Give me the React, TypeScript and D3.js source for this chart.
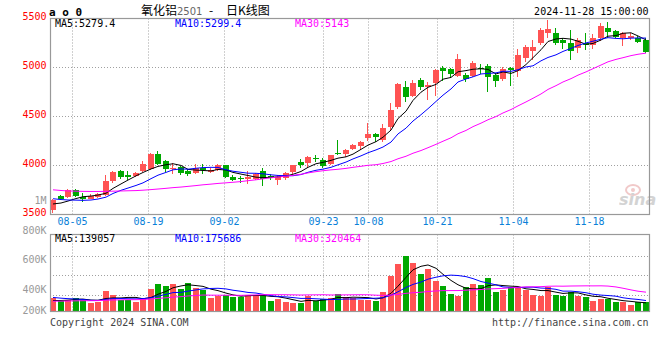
import React from 'react';
import * as d3 from 'd3';

// ---------- data ----------
const dates = [
  '07-31', '08-01', '08-02',
  '08-05', '08-06', '08-07', '08-08', '08-09',
  '08-12', '08-13', '08-14', '08-15', '08-16',
  '08-19', '08-20', '08-21', '08-22', '08-23',
  '08-26', '08-27', '08-28', '08-29', '08-30',
  '09-02', '09-03', '09-04', '09-05', '09-06',
  '09-09', '09-10', '09-11', '09-12', '09-13',
  '09-18', '09-19', '09-20',
  '09-23', '09-24', '09-25', '09-26', '09-27',
  '09-30',
  '10-08', '10-09', '10-10', '10-11',
  '10-14', '10-15', '10-16', '10-17', '10-18',
  '10-21', '10-22', '10-23', '10-24', '10-25',
  '10-28', '10-29', '10-30', '10-31', '11-01',
  '11-04', '11-05', '11-06', '11-07', '11-08',
  '11-11', '11-12', '11-13', '11-14', '11-15',
  '11-18', '11-19', '11-20', '11-21', '11-22',
  '11-25', '11-26', '11-27', '11-28',
];

const open = [
  3544, 3690, 3680, 3745, 3680, 3663, 3680, 3704, 3840, 3942,
  3901, 3894, 3945, 3969, 4115, 4047, 3962, 3986, 3945, 3928,
  3979, 3932, 3952, 4003, 3884, 3874, 3862, 3867, 3942, 3891,
  3857, 3874, 3935, 4034, 4027, 4078, 4054, 4020, 4129, 4115,
  4166, 4197, 4282, 4320, 4258, 4388, 4598, 4796, 4707, 4877,
  4803, 4843, 5000, 4983, 4911, 4921, 4915, 4996, 5013, 4921,
  4881, 4999, 4962, 5102, 5170, 5245, 5347, 5357, 5279, 5251,
  5200, 5255, 5228, 5306, 5408, 5374, 5306, 5306, 5306, 5285,
];
const high = [
  3660, 3697, 3765, 3765, 3724, 3714, 3724, 3901, 3945, 3952,
  3942, 3935, 4044, 4129, 4149, 4054, 4027, 3993, 3969, 4013,
  4020, 3970, 4013, 4010, 3901, 3894, 3942, 3928, 3976, 3918,
  3901, 3935, 4010, 4071, 4095, 4105, 4078, 4112, 4258, 4173,
  4217, 4251, 4435, 4333, 4428, 4639, 4843, 4860, 4877, 4894,
  4853, 4985, 5013, 4995, 5142, 4939, 5068, 5035, 5040, 4939,
  5006, 5006, 5193, 5228, 5279, 5398, 5483, 5398, 5306, 5387,
  5296, 5347, 5337, 5449, 5466, 5381, 5364, 5347, 5319, 5296,
];
const low = [
  3520, 3653, 3670, 3677, 3629, 3656, 3670, 3690, 3826, 3860,
  3850, 3884, 3935, 3959, 4003, 3935, 3918, 3908, 3891, 3911,
  3918, 3920, 3942, 3874, 3840, 3826, 3816, 3857, 3789, 3850,
  3806, 3850, 3918, 3976, 3976, 4037, 3976, 4003, 4105, 4088,
  4156, 4163, 4252, 4241, 4241, 4367, 4581, 4650, 4700, 4769,
  4666, 4707, 4860, 4895, 4898, 4853, 4898, 4930, 4751, 4796,
  4864, 4813, 4904, 5057, 5074, 5228, 5296, 5234, 5187, 5074,
  5143, 5177, 5187, 5272, 5306, 5296, 5221, 5285, 5245, 5149,
];
const close = [
  3653, 3663, 3748, 3687, 3656, 3687, 3714, 3840, 3935, 3884,
  3884, 3928, 4013, 4115, 4013, 3969, 3979, 3928, 3911, 3979,
  3950, 3955, 4003, 3884, 3857, 3862, 3884, 3918, 3860, 3877,
  3884, 3928, 4003, 4003, 4088, 4068, 3998, 4105, 4115, 4156,
  4207, 4241, 4320, 4292, 4384, 4571, 4830, 4694, 4843, 4802,
  4820, 4979, 4960, 4932, 5091, 4880, 5047, 4986, 4898, 4860,
  4983, 4972, 5125, 5211, 5211, 5387, 5391, 5255, 5245, 5170,
  5279, 5234, 5300, 5420, 5364, 5310, 5353, 5323, 5260, 5159,
];
const volume = [
  224000, 171000, 187000, 224000, 187000, 144000, 155000, 331000, 267000, 187000,
  187000, 155000, 224000, 368000, 448000, 411000, 448000, 368000, 464000, 384000,
  347000, 224000, 251000, 267000, 240000, 240000, 267000, 267000, 267000, 171000,
  208000, 155000, 144000, 133000, 251000, 171000, 208000, 213000, 283000, 229000,
  213000, 192000, 192000, 176000, 320000, 576000, 763000, 896000, 779000, 603000,
  683000, 496000, 416000, 288000, 256000, 400000, 448000, 427000, 533000, 320000,
  347000, 400000, 400000, 347000, 272000, 256000, 400000, 272000, 245000, 320000,
  250000, 240000, 165000, 205000, 200000, 150000, 148000, 105000, 145000, 147000,
];
// closes / volumes of the 29 sessions before the first visible candle (estimated)
const priorCloses = [
  3873, 3898, 3747, 3716, 3717, 3714, 3810, 3875, 3824, 3824,
  3868, 3893, 3935, 3833, 3759, 3769, 3748, 3701, 3739, 3710,
  3745, 3793, 3704, 3677, 3652, 3614, 3648, 3560, 3562,
];
const priorVolumes = [
  140000, 132000, 138000, 130000, 128000, 135000, 142000, 138000, 130000, 126000,
  134000, 140000, 136000, 132000, 138000, 130000, 136000, 140000, 134000, 142000,
  290000, 265000, 280000, 260000, 275000, 170000, 160000, 162000, 164000,
];

const dateTicks = ['08-05', '08-19', '09-02', '09-23', '10-08', '10-21', '11-04', '11-18'];
const priceTicks = [5500, 5000, 4500, 4000, 3500];
const priceGridTicks = [5000, 4500, 4000];
const volTickValues = [1000000, 800000, 600000, 400000, 200000];
const volTickLabels = ['1M', '800K', '600K', '400K', '200K'];
const maPeriods = [5, 10, 30];
const maColors = ['#000000', '#0000ff', '#ff00ff'];
const priceLegend = ['MA5:5279.4', 'MA10:5299.4', 'MA30:5143'];
const volLegend = ['MA5:139057', 'MA10:175686', 'MA30:320464'];
const titleName = '氧化铝';
const titleCode = '2501';
const titleKind = '日K线图';
const headerTag = 'a o 0';
const stamp = '2024-11-28 15:00:00';
const footerLeft = 'Copyright 2024 SINA.COM';
const footerRight = 'http://finance.sina.com.cn';

function movingAverage(series: number[], prior: number[], n: number): number[] {
  const all = prior.concat(series);
  const off = prior.length;
  return series.map((_, i) => d3.mean(all.slice(off + i - n + 1, off + i + 1)) as number);
}

const MONO = '"DejaVu Sans Mono", "Liberation Mono", monospace';
const UP = '#ff5353';
const DOWN = '#00a800';

export default function App() {
  const W = 660;
  const H = 360;
  const left = 50;
  const right = 650;
  const frameRight = 649.5;
  const mainTop = 18.5;
  const mainBottom = 214.5;
  const volTop = 234.5;
  const volBottom = 311.5;
  const volGridOffsets = [22, 41, 61];

  const x = d3.scaleBand<string>().domain(dates).range([left, right]).paddingInner(0).paddingOuter(0);
  const xGrid = d3.scaleLinear().domain([0, dates.length - 1]).range([left, right]);
  const yPrice = d3.scaleLinear().domain([3500, 5500]).range([mainBottom, mainTop]);
  const yVol = d3.scaleLinear().domain([0, 1232000]).range([volBottom, volTop]);
  const yVolLabel = d3.scaleLinear().domain([0, 1000000]).range([353.1, 203.6]);

  const bodyW = 6;
  const barW = 5.5;
  const bodyLeft = (d: string) => Math.floor((x(d) as number) + 0.5);
  const cx = (d: string) => bodyLeft(d) + bodyW / 2;

  const priceMAs = maPeriods.map((n) => movingAverage(close, priorCloses, n));
  const volMAs = maPeriods.map((n) => movingAverage(volume, priorVolumes, n));

  const priceLine = d3.line<number>().x((_, i) => cx(dates[i])).y((v) => yPrice(v));
  const volLine = d3.line<number>().x((_, i) => cx(dates[i])).y((v) => yVol(v));

  const gridXs = dateTicks.map((t) => Math.floor(xGrid(dates.indexOf(t))) + 0.5);

  return (
    <svg
      width={W}
      height={H}
      viewBox={`0 0 ${W} ${H}`}
      style={{ position: 'absolute', left: 0, top: 0, background: '#ffffff', display: 'block' }}
    >
      <defs>
        <clipPath id="mainClip">
          <rect x={left} y={mainTop} width={frameRight - left} height={mainBottom - mainTop} />
        </clipPath>
        <clipPath id="volClip">
          <rect x={left} y={volTop} width={frameRight - left} height={volBottom - volTop} />
        </clipPath>
      </defs>
      <rect x={0} y={0} width={W} height={H} fill="#ffffff" />

      {/* header */}
      <text x={49} y={16} fontFamily={MONO} fontSize={11} fontWeight="bold" fill="#000">{headerTag}</text>
      <text x={141} y={14.5} fontFamily='"Noto Sans CJK SC", sans-serif' fontSize={12} fill="#000">{titleName}</text>
      <text x={177} y={14.5} fontFamily='"DejaVu Sans", sans-serif' fontSize={10} fill="#666">{titleCode}</text>
      <text x={209} y={14.5} fontFamily='"Noto Sans CJK SC", sans-serif' fontSize={12} fill="#000">-</text>
      <text x={226} y={14.5} fontFamily='"Noto Sans CJK SC", sans-serif' fontSize={12} fill="#000">{titleKind}</text>
      <text x={648.5} y={15} textAnchor="end" fontFamily={MONO} fontSize={10} fill="#000">{stamp}</text>

      {/* main grid */}
      {priceGridTicks.map((v) => (
        <line key={'hg' + v} x1={left} x2={frameRight} y1={yPrice(v)} y2={yPrice(v)}
          stroke="#a0a0a0" strokeDasharray="1,2" strokeWidth={1} />
      ))}
      {gridXs.map((gx, i) => (
        <g key={'vg' + i}>
          <line x1={gx} x2={gx} y1={mainTop} y2={mainBottom} stroke="#a0a0a0" strokeDasharray="1,2" />
          <line x1={gx} x2={gx} y1={volTop} y2={volBottom} stroke="#a0a0a0" strokeDasharray="1,2" />
        </g>
      ))}
      {volGridOffsets.map((o) => (
        <line key={'vh' + o} x1={left} x2={frameRight} y1={volTop + o} y2={volTop + o}
          stroke="#a0a0a0" strokeDasharray="1,2" />
      ))}

      {/* watermark */}
      <g opacity={0.9}>
        <ellipse cx={633} cy={190} rx={7} ry={5} fill="none" stroke="#f0c4c4" strokeWidth={2} />
        <circle cx={633} cy={190} r={2} fill="#f0c4c4" />
        <text x={619} y={205} fontFamily='"DejaVu Sans", sans-serif' fontStyle="italic" fontWeight="bold"
          fontSize={16} fill="#cfcfcf">sina</text>
      </g>

      {/* candles */}
      <g clipPath="url(#mainClip)" shapeRendering="crispEdges">
        {dates.map((d, i) => {
          const up = close[i] >= open[i];
          const col = up ? UP : DOWN;
          const yT = yPrice(Math.max(open[i], close[i]));
          const yB = yPrice(Math.min(open[i], close[i]));
          const wx = bodyLeft(d) + 2.5;
          return (
            <g key={'c' + d}>
              <line x1={wx} x2={wx} y1={yPrice(high[i])} y2={yPrice(low[i])} stroke={col} strokeWidth={1} />
              <rect x={bodyLeft(d)} y={yT} width={bodyW} height={Math.max(1, yB - yT)} fill={col} />
            </g>
          );
        })}
      </g>
      <g clipPath="url(#mainClip)" fill="none">
        {priceMAs.map((s, k) => (
          <path key={'pm' + k} d={priceLine(s) as string} stroke={maColors[k]} strokeWidth={1} />
        ))}
      </g>

      {/* volume bars */}
      <g clipPath="url(#volClip)" shapeRendering="crispEdges">
        {dates.map((d, i) => {
          const up = close[i] >= open[i];
          const yT = yVol(volume[i]);
          return (
            <rect key={'v' + d} x={bodyLeft(d)} y={yT} width={barW} height={volBottom - yT} fill={up ? UP : DOWN} />
          );
        })}
      </g>
      <g clipPath="url(#volClip)" fill="none">
        {volMAs.map((s, k) => (
          <path key={'vm' + k} d={volLine(s) as string} stroke={maColors[k]} strokeWidth={1} />
        ))}
      </g>

      {/* frames */}
      <rect x={left + 0.5} y={mainTop} width={frameRight - left - 0.5} height={mainBottom - mainTop}
        fill="none" stroke="#999" strokeWidth={1.2} />
      <rect x={left + 0.5} y={volTop} width={frameRight - left - 0.5} height={volBottom - volTop}
        fill="none" stroke="#999" strokeWidth={1.2} />

      {/* legends */}
      {priceLegend.map((t, k) => (
        <text key={'pl' + k} x={55 + 120 * k} y={27} fontFamily={MONO} fontSize={10} fill={maColors[k]}>{t}</text>
      ))}
      {volLegend.map((t, k) => (
        <text key={'vl' + k} x={55 + 120 * k} y={241.5} fontFamily={MONO} fontSize={10} fill={maColors[k]}>{t}</text>
      ))}

      {/* price axis labels */}
      {priceTicks.map((v) => (
        <text key={'pt' + v} x={46.5} y={yPrice(v) + 1.5} textAnchor="end" fontFamily={MONO} fontSize={10} fill="#ff0000">{v}</text>
      ))}
      {/* volume axis labels */}
      {volTickValues.map((v, k) => (
        <text key={'vt' + v} x={46.5} y={Math.min(yVolLabel(v), 314.3)} textAnchor="end" fontFamily={MONO}
          fontSize={10} fill="#999">{volTickLabels[k]}</text>
      ))}
      {/* date labels */}
      {dateTicks.map((t, i) => (
        <text key={'dt' + t} x={gridXs[i]} y={225} textAnchor="middle" fontFamily={MONO} fontSize={10} fill="#0a7fd8">{t}</text>
      ))}

      {/* footer */}
      <text x={50} y={326} fontFamily={MONO} fontSize={10} fill="#444">{footerLeft}</text>
      <text x={648.5} y={326} textAnchor="end" fontFamily={MONO} fontSize={10} fill="#444">{footerRight}</text>
    </svg>
  );
}
